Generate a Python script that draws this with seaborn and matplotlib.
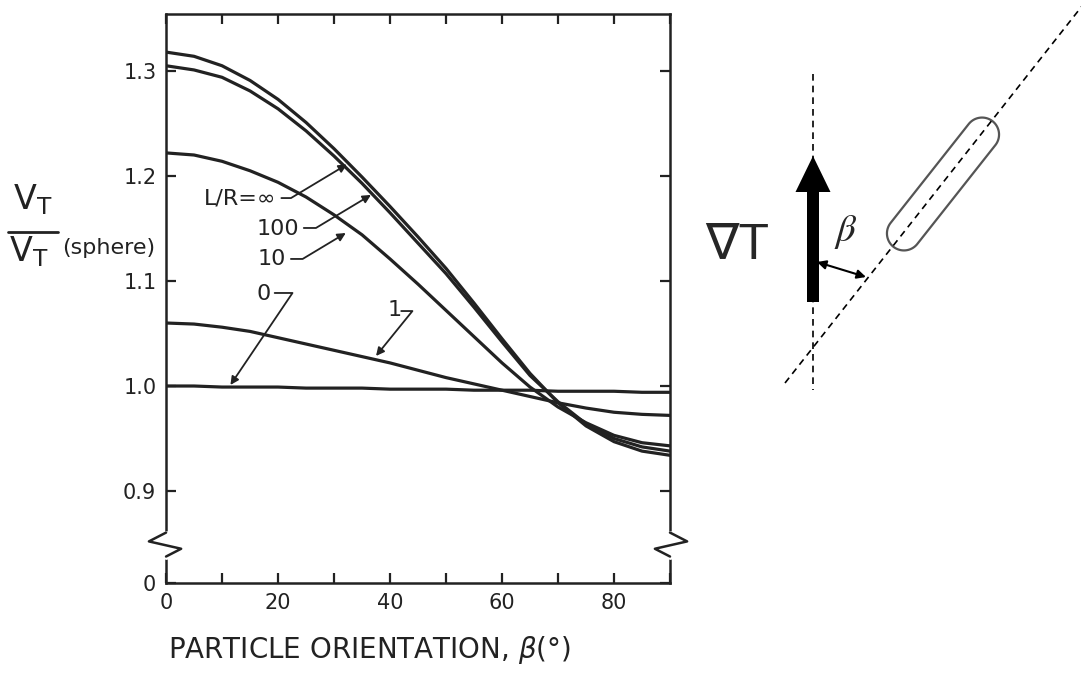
import numpy as np
import pandas as pd
import seaborn as sns
from matplotlib import pyplot as plt
from matplotlib.patches import FancyArrow, Polygon

# particle orientation (deg) and V_T / V_T(sphere)
beta = [0, 5, 10, 15, 20, 25, 30, 35, 40, 45, 50, 55, 60, 65, 70, 75, 80, 85, 90]
v_inf = [1.318, 1.314, 1.305, 1.291, 1.273, 1.251, 1.226, 1.199, 1.171, 1.142,
         1.112, 1.079, 1.045, 1.012, 0.984, 0.962, 0.947, 0.938, 0.934]
v_100 = [1.305, 1.301, 1.294, 1.281, 1.264, 1.243, 1.219, 1.193, 1.165, 1.136,
         1.107, 1.075, 1.042, 1.010, 0.985, 0.964, 0.950, 0.942, 0.938]
v_10 = [1.222, 1.220, 1.214, 1.205, 1.194, 1.180, 1.163, 1.144, 1.121, 1.097,
        1.072, 1.047, 1.022, 0.999, 0.980, 0.965, 0.953, 0.946, 0.943]
v_1 = [1.060, 1.059, 1.056, 1.052, 1.046, 1.040, 1.034, 1.028, 1.022, 1.015,
       1.008, 1.002, 0.996, 0.990, 0.984, 0.979, 0.975, 0.973, 0.972]
v_0 = [1.000, 1.000, 0.999, 0.999, 0.999, 0.998, 0.998, 0.998, 0.997, 0.997,
       0.997, 0.996, 0.996, 0.996, 0.995, 0.995, 0.995, 0.994, 0.994]

curve_names = ["inf", "100", "10", "1", "0"]
xticks = [0, 10, 20, 30, 40, 50, 60, 70, 80, 90]
xticklabels = ["0", "", "20", "", "40", "", "60", "", "80", ""]
yticklabels = ["0", "0.9", "1.0", "1.1", "1.2", "1.3"]

rows = []
for name, vals in zip(curve_names, [v_inf, v_100, v_10, v_1, v_0]):
    for b, v in zip(beta, vals):
        rows.append({"beta": b, "ratio": v, "curve": name})
df = pd.DataFrame(rows)

sns.set_style("ticks")
plt.rcParams["font.family"] = ["DejaVu Sans"]
ink = "#222222"

fig = plt.figure(figsize=(10.81, 6.79), dpi=100)
ax = fig.add_axes([0.1536, 0.1414, 0.4662, 0.838])

sns.lineplot(data=df, x="beta", y="ratio", hue="curve", estimator=None,
             palette={n: ink for n in curve_names}, linewidth=2.3,
             legend=False, ax=ax, solid_joinstyle="round")

ybot, ytop = 0.8124, 1.3543
ax.set_xlim(0, 90)
ax.set_ylim(ybot, ytop)
ax.set_xticks(xticks)
ax.set_xticklabels(xticklabels)
ax.set_yticks([ybot, 0.9, 1.0, 1.1, 1.2, 1.3])
ax.set_yticklabels(yticklabels)
ax.set_xlabel("")
ax.set_ylabel("")
ax.tick_params(direction="in", length=7, width=1.6, top=True, right=True,
               labelsize=15, pad=7, color=ink, labelcolor=ink)
for s in ax.spines.values():
    s.set_linewidth(1.8)
    s.set_color(ink)

# axis break zigzags on both side spines
ytr = ax.get_yaxis_transform()
yc, dy = 0.849, 0.0114
for x0, sgn in [(0, 1), (1, -1)]:
    ax.plot([x0, x0], [yc - dy, yc + dy], color="white", lw=3.5,
            transform=ytr, clip_on=False, zorder=5)
    ax.plot([x0, x0 - sgn * 0.034, x0 + sgn * 0.030, x0],
            [yc + dy, yc + 0.003, yc - 0.004, yc - dy],
            color=ink, lw=1.8, transform=ytr, clip_on=False, zorder=6)

# curve labels with leader arrows
lab_kw = dict(fontsize=16, color=ink, va="center")
arr = dict(arrowstyle="-|>", lw=1.3, color=ink, mutation_scale=12,
           shrinkA=0, shrinkB=0)
ax.text(19.6, 1.179, "L/R=∞", ha="right", **lab_kw)
ax.annotate("", xy=(32.3, 1.211), xytext=(20.6, 1.179),
            arrowprops=dict(arr, connectionstyle="angle,angleA=0,angleB=31,rad=0"))
ax.text(23.8, 1.150, "100", ha="right", **lab_kw)
ax.annotate("", xy=(36.6, 1.182), xytext=(24.6, 1.1505),
            arrowprops=dict(arr, connectionstyle="angle,angleA=0,angleB=31,rad=0"))
ax.text(21.4, 1.121, "10", ha="right", **lab_kw)
ax.annotate("", xy=(32.1, 1.1457), xytext=(22.3, 1.121),
            arrowprops=dict(arr, connectionstyle="angle,angleA=0,angleB=31,rad=0"))
ax.text(17.4, 1.0876, "0", ha="center", **lab_kw)
ax.annotate("", xy=(11.5, 1.001), xytext=(19.4, 1.0886),
            arrowprops=dict(arr, connectionstyle="angle,angleA=0,angleB=56,rad=0"))
ax.text(40.9, 1.0724, "1", ha="center", **lab_kw)
ax.annotate("", xy=(37.5, 1.0286), xytext=(42.0, 1.0714),
            arrowprops=dict(arr, connectionstyle="angle,angleA=0,angleB=51,rad=0"))

# axis titles
fig.text(0.342, 0.043, "PARTICLE ORIENTATION, $\\beta$(°)", fontsize=20,
         color=ink, ha="center", va="center")
fig.text(33 / 1081, 1 - 200 / 679, "$\\mathsf{V_T}$", fontsize=24, color=ink,
         ha="center", va="center")
fig.text(29 / 1081, 1 - 252 / 679, "$\\mathsf{V_T}$", fontsize=24, color=ink,
         ha="center", va="center")
fig.text(62 / 1081, 1 - 248 / 679, "(sphere)", fontsize=16, color=ink,
         ha="left", va="center")
fig.add_artist(plt.Line2D([8 / 1081, 58 / 1081], [1 - 232 / 679, 1 - 232 / 679],
                          color=ink, lw=2))

# schematic on the right, pixel coordinates
ax2 = fig.add_axes([690 / 1081, 0, 391 / 1081, 1])
ax2.set_xlim(690, 1081)
ax2.set_ylim(679, 0)
ax2.axis("off")
dash = (0, (4, 3))
ax2.plot([813, 813], [74, 390], ls=dash, lw=1.2, color="k")
ax2.plot([785, 1086], [383, 1], ls=dash, lw=1.2, color="k")
ax2.add_patch(FancyArrow(813, 302, 0, -146, width=12, head_width=35,
                         head_length=36, length_includes_head=True,
                         color="k", lw=0))
ax2.annotate("", xy=(866, 277), xytext=(817, 262),
             arrowprops=dict(arrowstyle="<|-|>", lw=1.5, color="k",
                             mutation_scale=13, shrinkA=0, shrinkB=0))
ax2.text(737, 246, "∇T", fontsize=36, ha="center", va="center",
         family=["Liberation Sans", "DejaVu Sans"])
ax2.text(846, 232, "$\\beta$", fontsize=28, ha="center", va="center",
         math_fontfamily="stix")

# capsule-shaped particle
cx, cy, h, r = 943, 184, 63, 17
th = np.arctan2(-0.785, 0.62)
ux, uy = np.cos(th), np.sin(th)
a1 = np.linspace(th - np.pi / 2, th + np.pi / 2, 40)
a2 = np.linspace(th + np.pi / 2, th + 3 * np.pi / 2, 40)
px = np.concatenate([cx + h * ux + r * np.cos(a1), cx - h * ux + r * np.cos(a2)])
py = np.concatenate([cy + h * uy + r * np.sin(a1), cy - h * uy + r * np.sin(a2)])
ax2.add_patch(Polygon(np.column_stack([px, py]), closed=True, fill=False,
                      edgecolor="#555555", lw=1.6))

fig.savefig("out.png", dpi=100)
